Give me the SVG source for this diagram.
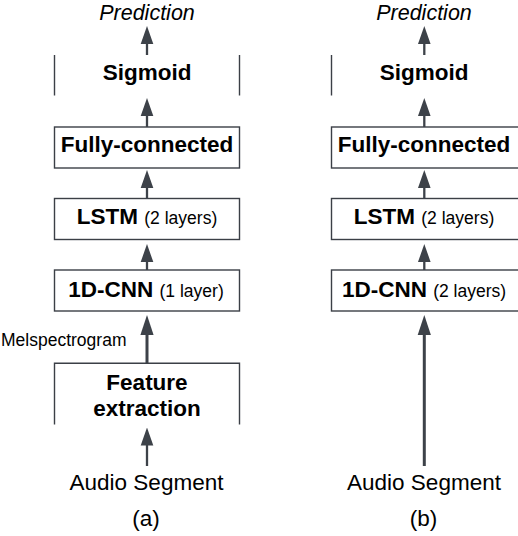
<svg xmlns="http://www.w3.org/2000/svg" width="518" height="536" viewBox="0 0 518 536">
  <style>
    text { font-family: "Liberation Sans", Arial, sans-serif; fill: #000; }
    .b { font-weight: bold; font-size: 22.5px; }
    .s { font-weight: normal; font-size: 17.5px; }
    .r { font-size: 22.5px; }
    .i { font-style: italic; font-size: 21.5px; }
    .box { fill: none; stroke: #3b3f46; stroke-width: 1.4; }
    .a { fill: none; stroke: #3d4249; stroke-width: 2.3; }
    .at { fill: none; stroke: #3d4249; stroke-width: 3; }
  </style>
  <defs>
    <marker id="ah" markerUnits="userSpaceOnUse" viewBox="0 -7 18 14" markerWidth="18" markerHeight="14" refX="1" refY="0" orient="auto">
      <path d="M0,-6.3 L18,0 L0,6.3 Z" fill="#3d4249"/>
    </marker>
    <marker id="ah2" markerUnits="userSpaceOnUse" viewBox="0 -7 20 14" markerWidth="20" markerHeight="14" refX="1" refY="0" orient="auto">
      <path d="M0,-6.6 L20,0 L0,6.6 Z" fill="#3d4249"/>
    </marker>
  </defs>

  <!-- Column (a) -->
  <g id="a-prediction"><text class="i" x="147" y="19.6" text-anchor="middle">Prediction</text></g>
  <g id="a-sigmoid">
    <line class="box" x1="54.5" y1="55" x2="54.5" y2="95.5"/>
    <line class="box" x1="239.5" y1="55" x2="239.5" y2="95.5"/>
    <text class="b" x="147" y="79.5" text-anchor="middle">Sigmoid</text>
  </g>
  <g id="a-fc">
    <rect class="box" x="54.5" y="127" width="185" height="41"/>
    <text class="b" x="147" y="152" text-anchor="middle">Fully-connected</text>
  </g>
  <g id="a-lstm">
    <rect class="box" x="54.5" y="198.5" width="185" height="41"/>
    <text class="b" x="147" y="224" text-anchor="middle">LSTM <tspan class="s">(2 layers)</tspan></text>
  </g>
  <g id="a-cnn">
    <rect class="box" x="54.5" y="270" width="185" height="41"/>
    <text class="b" x="146" y="296.5" text-anchor="middle">1D-CNN <tspan class="s">(1 layer)</tspan></text>
  </g>
  <g id="a-mel"><text class="s" x="1" y="345.7">Melspectrogram</text></g>
  <g id="a-feature">
    <path class="box" d="M54.5,424.5 V363.3 H239.5 V424.5"/>
    <text class="b" x="147" y="389.5" text-anchor="middle">Feature</text>
    <text class="b" x="147" y="416" text-anchor="middle">extraction</text>
  </g>
  <g id="a-audio"><text class="r" x="146.5" y="490" text-anchor="middle">Audio Segment</text></g>
  <g id="a-label"><text class="r" x="146" y="526" text-anchor="middle">(a)</text></g>

  <!-- Column (b) -->
  <g id="b-prediction"><text class="i" x="424" y="19.6" text-anchor="middle">Prediction</text></g>
  <g id="b-sigmoid">
    <line class="box" x1="331.5" y1="55" x2="331.5" y2="95.5"/>
    <text class="b" x="424" y="79.5" text-anchor="middle">Sigmoid</text>
  </g>
  <g id="b-fc">
    <rect class="box" x="331.5" y="127" width="188" height="41"/>
    <text class="b" x="424" y="152" text-anchor="middle">Fully-connected</text>
  </g>
  <g id="b-lstm">
    <rect class="box" x="331.5" y="198.5" width="188" height="41"/>
    <text class="b" x="424" y="224" text-anchor="middle">LSTM <tspan class="s">(2 layers)</tspan></text>
  </g>
  <g id="b-cnn">
    <rect class="box" x="331.5" y="270" width="188" height="41"/>
    <text class="b" x="424" y="296.5" text-anchor="middle">1D-CNN <tspan class="s">(2 layers)</tspan></text>
  </g>
  <g id="b-audio"><text class="r" x="424" y="490" text-anchor="middle">Audio Segment</text></g>
  <g id="b-label"><text class="r" x="423.5" y="526" text-anchor="middle">(b)</text></g>

  <!-- Connectors -->
  <g id="connectors">
    <line class="a" x1="147" y1="55" x2="147" y2="43" marker-end="url(#ah)"/>
    <line class="a" x1="147" y1="127" x2="147" y2="115" marker-end="url(#ah)"/>
    <line class="a" x1="147" y1="198.5" x2="147" y2="187" marker-end="url(#ah)"/>
    <line class="a" x1="147" y1="270" x2="147" y2="261" marker-end="url(#ah)"/>
    <line class="at" x1="147" y1="363.3" x2="147" y2="334" marker-end="url(#ah2)"/>
    <line class="a" x1="147" y1="466" x2="147" y2="444.5" marker-end="url(#ah)"/>

    <line class="a" x1="424.3" y1="55" x2="424.3" y2="43" marker-end="url(#ah)"/>
    <line class="a" x1="424.3" y1="127" x2="424.3" y2="115" marker-end="url(#ah)"/>
    <line class="a" x1="424.3" y1="198.5" x2="424.3" y2="187" marker-end="url(#ah)"/>
    <line class="a" x1="424.3" y1="270" x2="424.3" y2="261" marker-end="url(#ah)"/>
    <line class="at" x1="424.3" y1="466" x2="424.3" y2="334" marker-end="url(#ah2)"/>
  </g>
</svg>
